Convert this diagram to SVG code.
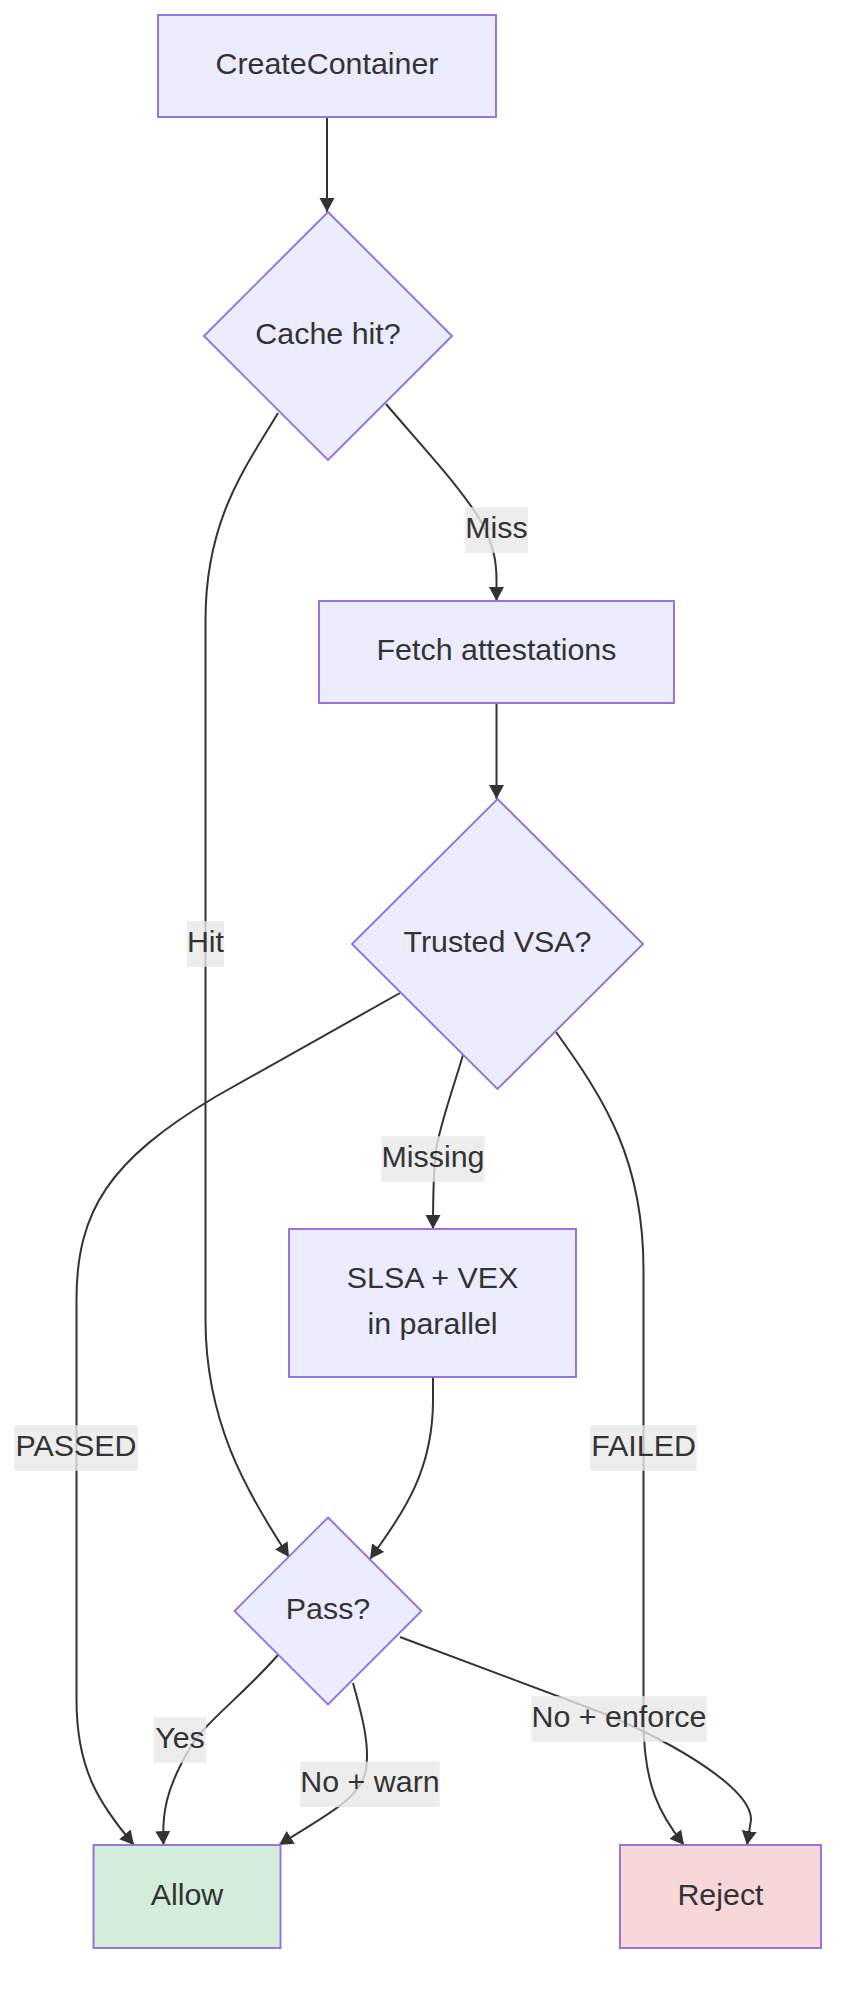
<svg xmlns="http://www.w3.org/2000/svg" width="850" height="1999" viewBox="0 0 850 1999">
<defs>
<style>
.node rect,.node polygon{fill:#ECECFF;stroke:#9370DB;stroke-width:1.9}
.node.allow rect{fill:#D4EDDA}
.node.reject rect{fill:#F8D7DA}
text{font-family:"Liberation Sans",Arial,sans-serif;font-size:30.4px;fill:#333;text-anchor:middle}
.edge{fill:none;stroke:#333;stroke-width:2;marker-end:url(#arrow)}
.lbl rect{fill:rgba(232,232,232,0.8)}
</style>
<marker id="arrow" markerUnits="userSpaceOnUse" markerWidth="15" markerHeight="16" refX="14" refY="7.5" orient="auto" viewBox="0 0 15 15">
<path d="M0,0 L14,7.5 L0,15 z" fill="#333"/>
</marker>
</defs>
<rect width="850" height="1999" fill="#fff"/>
<g id="connectors">
<path class="edge" d="M327,117 L327,212"/>
<path class="edge" d="M386,404 C425,450 465,492 483,525 C493,545 496.5,560 496.5,580 L496.5,601"/>
<path class="edge" d="M278,413 C245,468 205.5,520 205.5,620 L205.5,1320 C205.5,1420 245,1490 289,1557"/>
<path class="edge" d="M496.5,703 L496.5,799"/>
<path class="edge" d="M400,993 L215,1097 C110,1160 76.5,1210 76.5,1300 L76.5,1700 C76.5,1770 100,1805 134,1845"/>
<path class="edge" d="M463,1055 C452,1092 440,1125 436,1150 C433,1175 433,1200 433,1229"/>
<path class="edge" d="M556,1032 C605,1100 643.5,1160 643.5,1270 L643.5,1720 C643.5,1785 660,1815 684,1845"/>
<path class="edge" d="M433,1377 L433,1400 C433,1470 405,1510 370,1559"/>
<path class="edge" d="M278,1655 C240,1698 205,1722 190,1748 C165,1790 162,1815 163.5,1845"/>
<path class="edge" d="M353,1683 C362,1715 370,1745 366,1770 C360,1800 325,1815 279,1845"/>
<path class="edge" d="M400,1637 L600,1712 C680,1745 752,1790 751,1820 L747,1845"/>
</g>
<g id="edge-labels">
<g class="lbl" id="lbl-miss"><rect x="465" y="507.2" width="63" height="45.6"/><text x="496.5" y="538">Miss</text></g>
<g class="lbl" id="lbl-hit"><rect x="186.9" y="921.2" width="37.2" height="45.6"/><text x="205.5" y="952">Hit</text></g>
<g class="lbl" id="lbl-missing"><rect x="381.5" y="1136.2" width="103" height="45.6"/><text x="433" y="1167">Missing</text></g>
<g class="lbl" id="lbl-passed"><rect x="14.4" y="1425.2" width="123.3" height="45.6"/><text x="76" y="1456">PASSED</text></g>
<g class="lbl" id="lbl-failed"><rect x="590.3" y="1425.2" width="106.4" height="45.6"/><text x="643.5" y="1456">FAILED</text></g>
<g class="lbl" id="lbl-yes"><rect x="153.8" y="1717.2" width="52.4" height="45.6"/><text x="180" y="1748">Yes</text></g>
<g class="lbl" id="lbl-warn"><rect x="300.3" y="1761.6" width="139.4" height="45.6"/><text x="370" y="1792.4">No + warn</text></g>
<g class="lbl" id="lbl-enforce"><rect x="531.5" y="1696.2" width="175" height="45.6"/><text x="619" y="1727">No + enforce</text></g>
</g>
<g id="n-create" class="node"><rect x="158" y="15" width="338" height="102"/><text x="327" y="74">CreateContainer</text></g>
<g id="n-cache" class="node"><polygon points="328,212 452,336 328,460 204,336"/><text x="328" y="344">Cache hit?</text></g>
<g id="n-fetch" class="node"><rect x="319" y="601" width="355" height="102"/><text x="496.5" y="660">Fetch attestations</text></g>
<g id="n-vsa" class="node"><polygon points="497.5,799 643,944 497.5,1089 352,944"/><text x="497.5" y="952">Trusted VSA?</text></g>
<g id="n-slsa" class="node"><rect x="289" y="1229" width="287" height="148"/><text x="432.5" y="1288">SLSA + VEX</text><text x="432.5" y="1334">in parallel</text></g>
<g id="n-pass" class="node"><polygon points="328,1517.5 421.5,1611 328,1704.5 234.5,1611"/><text x="328" y="1619">Pass?</text></g>
<g id="n-allow" class="node allow"><rect x="93.5" y="1845" width="187" height="103"/><text x="187" y="1904.5">Allow</text></g>
<g id="n-reject" class="node reject"><rect x="620" y="1845" width="201" height="103"/><text x="720.5" y="1904.5">Reject</text></g>
</svg>
